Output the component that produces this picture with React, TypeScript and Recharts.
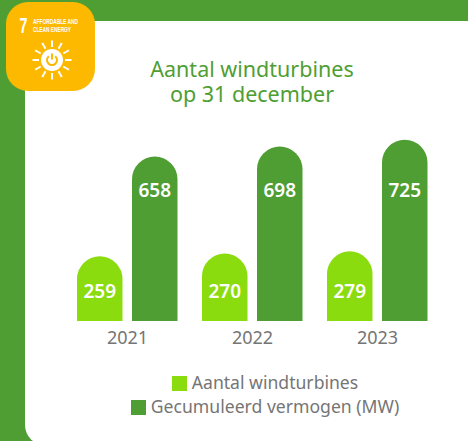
import React from "react";
import { BarChart, Bar, XAxis, YAxis, Legend, LabelList } from "recharts";

const years = ["2021", "2022", "2023"];
const turbines = [259, 270, 279];
const capacity = [658, 698, 725];
const rows = years.map((year, i) => ({ year, turbines: turbines[i], capacity: capacity[i] }));
const rayAngles = [0, 30, 60, 90, 120, 150, 180, 210, 240, 270, 300, 330];

const GREEN = "#4f9e33";
const LIME = "#8bdc0f";
const ORANGE = "#fdb800";
const GREY = "#757575";
const FONT = '"Noto Sans", sans-serif';
const NARROW = '"Liberation Sans Narrow", "Liberation Sans"';

const Badge = () => (
  <svg width={100} height={95} style={{ position: "absolute", left: 0, top: 0 }}>
    <rect x={6} y={2} width={89} height={89} rx={22} fill={ORANGE} />
    <text x={19.5} y={33} fontFamily={NARROW} fontWeight={700} fontSize={22} fill="#fff" textLength={8} lengthAdjust="spacingAndGlyphs">7</text>
    <text x={33} y={24} fontFamily={NARROW} fontWeight={700} fontSize={7} fill="#fff" textLength={45} lengthAdjust="spacingAndGlyphs">AFFORDABLE AND</text>
    <text x={33} y={32} fontFamily={NARROW} fontWeight={700} fontSize={7} fill="#fff" textLength={38} lengthAdjust="spacingAndGlyphs">CLEAN ENERGY</text>
    <g transform="translate(52 60)">
      {rayAngles.map((a) => (
        <line key={a} x1={0} y1={-13} x2={0} y2={-19.5} stroke="#fff" strokeWidth={2} transform={`rotate(${a})`} />
      ))}
      <circle r={11} fill="#fff" />
      <path d="M -3.2 -3.8 A 5 5 0 1 0 3.2 -3.8" fill="none" stroke={ORANGE} strokeWidth={2} />
      <line x1={0} y1={-6.5} x2={0} y2={-0.5} stroke={ORANGE} strokeWidth={2} />
    </g>
  </svg>
);

const LegendBlock = ({ payload }: any) => (
  <div style={{ width: 530, textAlign: "center", fontFamily: FONT, fontSize: 17.6, lineHeight: "24px", color: GREY }}>
    {(payload || []).map((p: any) => (
      <div key={p.value} style={{ whiteSpace: "nowrap" }}>
        <span style={{ display: "inline-block", width: 15, height: 15, background: p.color, marginRight: 5, verticalAlign: -2 }} />
        {p.value}
      </div>
    ))}
  </div>
);

// Value labels sit at a fixed height above the baseline of each bar, not relative to the bar's top.
const fixedLabel = (above: number) => (props: any) => (
  <text
    x={props.x + props.width / 2}
    y={props.y + props.height - above}
    textAnchor="middle"
    dominantBaseline="central"
    fill="#fff"
    fontFamily={FONT}
    fontWeight={600}
    fontSize={19}
  >
    {props.value}
  </text>
);

export default function App() {
  return (
    <div style={{ position: "absolute", left: 0, top: 0, width: 468, height: 441, overflow: "hidden", background: GREEN }}>
      <div style={{ position: "absolute", left: 25, top: 21, width: 460, height: 424, background: "#fff", borderRadius: "0 0 0 20px" }} />
      <Badge />
      <div style={{ position: "absolute", left: 0, top: 0 }}>
        <BarChart
          width={468}
          height={441}
          data={rows}
          barSize={45.5}
          barGap={9.5}
          margin={{ top: 100, right: 28, bottom: 42, left: 65 }}
        >
          <text textAnchor="middle" fontFamily={FONT} fontSize={21.5} fill={GREEN}>
            <tspan x={252} y={77}>Aantal windturbines</tspan>
            <tspan x={252} y={102}>op 31 december</tspan>
          </text>
          <XAxis
            dataKey="year"
            axisLine={false}
            tickLine={false}
            tickMargin={4}
            tick={{ fill: GREY, fontSize: 18, fontFamily: FONT }}
          />
          <YAxis hide domain={[0, 884]} />
          <Legend
            align="center"
            verticalAlign="bottom"
            wrapperStyle={{ left: 0, top: 370, width: 530 }}
            content={(props: any) => <LegendBlock {...props} />}
          />
          <Bar dataKey="turbines" name="Aantal windturbines" fill={LIME} radius={[23, 23, 0, 0]} isAnimationActive={false}>
            <LabelList dataKey="turbines" content={fixedLabel(30)} />
          </Bar>
          <Bar dataKey="capacity" name="Gecumuleerd vermogen (MW)" fill={GREEN} radius={[23, 23, 0, 0]} isAnimationActive={false}>
            <LabelList dataKey="capacity" content={fixedLabel(131)} />
          </Bar>
        </BarChart>
      </div>
    </div>
  );
}
